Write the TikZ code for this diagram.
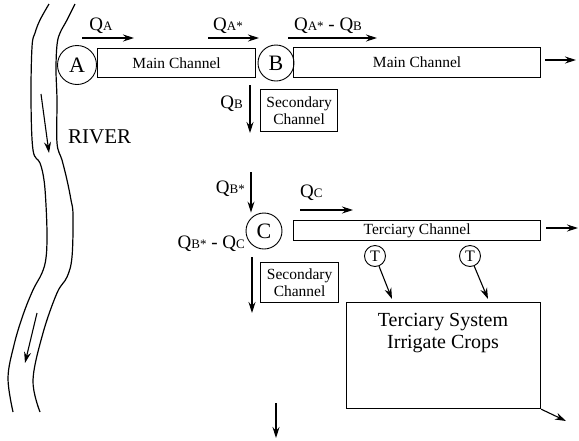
\documentclass[tikz,border=0pt]{standalone}
\usepackage{fontspec}
\setmainfont{Liberation Serif}
\usetikzlibrary{arrows.meta, positioning}

\newcommand{\flowq}[1]{Q{\fontsize{13}{13}\selectfont #1}}

\begin{document}
\begin{tikzpicture}[x=1pt, y=-1pt, >={Stealth[length=11pt, width=7pt]},
  chan/.style={draw, line width=1.2pt, inner sep=0pt, anchor=north west,
    font=\fontsize{15.5}{17}\selectfont},
  secbox/.style={chan, align=center},
  gate/.style={draw, circle, line width=0.9pt, inner sep=0pt,
    font=\fontsize{22}{22}\selectfont},
  tgate/.style={draw, circle, line width=0.9pt, inner sep=0pt, minimum size=21pt,
    font=\fontsize{16}{16}\selectfont},
  flow/.style={->, line width=1.1pt},
  qlab/.style={anchor=base, inner sep=0pt, font=\fontsize{19}{20}\selectfont}]
  \useasboundingbox (0,0) rectangle (579,440);

  % River banks
  \draw[line width=1.2pt] plot[smooth, tension=0.6] coordinates {(49,4) (40,20) (35,33)
    (32,47) (31,100) (33,150) (40,163) (44,180) (46,205) (47,235) (46,258) (42,273)
    (33,290) (23,315) (14,345) (8,378) (13,412)};
  \draw[line width=1.2pt] plot[smooth, tension=0.6] coordinates {(75,4) (67,20) (60,33)
    (57,45) (56,70) (57,100) (57,143) (62,160) (67,180) (71,200) (73,215) (72,257)
    (67,277) (57,293) (43,333) (33,380) (40,412)};
  \coordinate (r1) at (41,94); \coordinate (r2) at (49,153);
  \coordinate (r3) at (37,313); \coordinate (r4) at (25,363);
  \draw[flow] (r1) -- (r2);
  \draw[flow] (r3) -- (r4);
  \node[anchor=base west, inner sep=0pt, font=\fontsize{21}{21}\selectfont] (river)
    at (68,143) {RIVER};

  % Main channel
  \node[gate, minimum size=39pt] (A) at (77,65) {A};
  \node[chan, minimum width=158pt, minimum height=29pt] (main1) at (97,48) {Main Channel};
  \node[gate, minimum size=36pt] (B) at (276,63) {B};
  \node[chan, minimum width=247pt, minimum height=30pt] (main2) at (293,47) {Main Channel};
  \coordinate (out1) at (576,60);
  \draw[flow] (main2.east |- out1) ++(4,0) coordinate (out0) -- (out1);

  % Flows above the main channel
  \coordinate (qa0) at (82,38);   \coordinate (qa1) at (134,38);
  \coordinate (qs0) at (208,38);  \coordinate (qs1) at (259,38);
  \coordinate (qd0) at (288,38);  \coordinate (qd1) at (377,38);
  \draw[flow] (qa0) -- (qa1);
  \draw[flow] (qs0) -- (qs1);
  \draw[flow] (qd0) -- (qd1);
  \node[qlab] (lqa) at (101,30) {\flowq{A}};
  \node[qlab] (lqs) at (228,30) {\flowq{A*}};
  \node[qlab] (lqd) at (328,30) {\flowq{A*} - \flowq{B}};

  % Offtake at B
  \coordinate (qb0) at (250,85); \coordinate (qb1) at (250,133);
  \draw[flow] (qb0) -- (qb1);
  \node[qlab, anchor=base east] (lqb) at (243,108) {\flowq{B}};
  \node[secbox, minimum width=77pt, minimum height=42pt] (sec1) at (260,89)
    {Secondary\\Channel};

  % Node C
  \coordinate (qc0) at (251,172);
  \node[gate, minimum size=36pt] (C) at (264,231) {C};
  \draw[flow] (qc0) -- (qc0 |- C.north);
  \node[qlab, anchor=base east] (lqbs) at (245,193) {\flowq{B*}};
  \coordinate (qt0) at (300,210); \coordinate (qt1) at (353,210);
  \draw[flow] (qt0) -- (qt1);
  \node[qlab, anchor=base west] (lqc) at (300,197) {\flowq{C}};
  \node[chan, minimum width=247pt, minimum height=20pt] (terc) at (293,220)
    {Terciary Channel};
  \coordinate (out2) at (578,228);
  \draw[flow] (terc.east |- out2) ++(5,0) coordinate (out2a) -- (out2);

  % Offtake below C
  \coordinate (qe0) at (252,257); \coordinate (qe1) at (252,313);
  \draw[flow] (qe0) -- (qe1);
  \node[qlab, anchor=base east] (lqe) at (245,248) {\flowq{B*} - \flowq{C}};
  \node[secbox, minimum width=78pt, minimum height=40pt] (sec2) at (260,262)
    {Secondary\\Channel};

  % Tertiary turnouts and system
  \node[tgate] (t1) at (375,256) {T};
  \node[tgate] (t2) at (470,256) {T};
  \node[draw, line width=1.2pt, anchor=north west, minimum width=194pt,
    minimum height=106pt] (sys) at (346,302) {};
  \node[align=center, inner sep=0pt, anchor=north, font=\fontsize{20}{22}\selectfont]
    (systext) at (443,313) {Terciary System\\Irrigate Crops};
  \coordinate (s1) at (392,299); \coordinate (s2) at (488,299);
  \draw[flow] (t1) -- (s1);
  \draw[flow] (t2) -- (s2);
  \coordinate (out3) at (566,421);
  \draw[flow] (sys.south east) -- (out3);

  % Drain below
  \coordinate (d0) at (276,403); \coordinate (d1) at (276,438);
  \draw[flow] (d0) -- (d1);
\end{tikzpicture}
\end{document}
